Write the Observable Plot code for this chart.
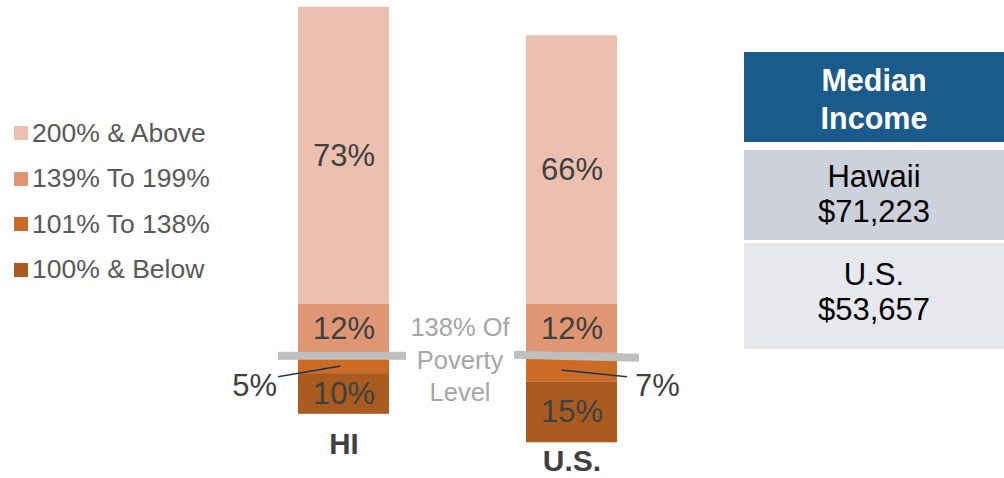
<!DOCTYPE html>
<html><head><meta charset="utf-8">
<script src="https://cdn.jsdelivr.net/npm/d3@7"></script>
<script src="https://cdn.jsdelivr.net/npm/@observablehq/plot@0.6"></script>
<style>
body{margin:0;background:#fff;font-family:"Liberation Sans",Arial,sans-serif;}
#wrap{position:relative;width:1004px;height:478px;overflow:hidden;}
#chart{position:absolute;left:0;top:0;}
.lg{position:absolute;left:14px;display:flex;align-items:center;white-space:nowrap;font-size:26.5px;color:#595959;height:30px;}
.sw{width:14px;height:14px;margin-right:4px;flex:none;}
.box{position:absolute;left:744px;width:260px;text-align:center;box-sizing:border-box;}
</style></head>
<body>
<div id="wrap"><div id="chart"></div></div>
<script>
// ---- data ----
const bars = ["HI", "U.S."];
const categories = ["100% & Below", "101% To 138%", "139% To 199%", "200% & Above"];
const hiShares = [10, 5, 12, 73];
const usShares = [15, 7, 12, 66];
const colors = ["#A95B20", "#CC6B25", "#E09573", "#EBC0B0"];
const belowThreshold = 2; // categories drawn below the 138% line
const thresholdLabel = "138% Of\nPoverty\nLevel";
const incomeTitle = "Median\nIncome";
const incomePlaces = ["Hawaii", "U.S."];
const incomeValues = ["$71,223", "$53,657"];

// ---- build rows ----
const rows = [];
[hiShares, usShares].forEach((vals, b) => {
  let y = -d3.sum(vals.slice(0, belowThreshold));
  vals.forEach((v, i) => {
    rows.push({bar: bars[b], category: categories[i], value: v, y1: y, y2: y + v, mid: y + v / 2});
    y += v;
  });
});
const bottoms = bars.map(b => ({bar: b, y: d3.min(rows.filter(r => r.bar === b), r => r.y1)}));
const inside = rows.filter(r => r.value >= 10);
const small = rows.filter(r => r.value < 10);

const W = 1004, H = 478;
const chart = Plot.plot({
  width: W, height: H,
  marginLeft: 297.7, marginRight: W - 617.6, marginTop: 6.8, marginBottom: 35.7,
  x: {domain: bars, paddingInner: 0.6, paddingOuter: 0, axis: null},
  y: {domain: [-22, 85], axis: null},
  color: {domain: categories, range: colors},
  style: {fontFamily: "'Liberation Sans', Arial, sans-serif", background: "transparent", overflow: "visible"},
  marks: [
    Plot.barY(rows, {x: "bar", y1: "y1", y2: "y2", fill: "category"}),
    Plot.text(inside, {x: "bar", y: "mid", text: d => d.value + "%", fill: "#404040", fontSize: 31}),
    // 138% poverty threshold line across each bar
    Plot.dot(bars, {x: d => d, y: 0, render(index, scales) {
      const {x, y} = scales;
      const bw = x.bandwidth();
      const y0 = y(0);
      const g = d3.create("svg:g");
      for (const i of index) {
        const x0 = x(bars[i]);
        const first = i === 0;
        g.append("line")
          .attr("x1", first ? x0 - 20 : x0 - 12).attr("y1", first ? y0 + 3 : y0 + 2)
          .attr("x2", first ? x0 + bw + 17 : x0 + bw + 22).attr("y2", first ? y0 + 3 : y0 + 5)
          .attr("stroke", "#BFBFBF").attr("stroke-width", 8);
      }
      return g.node();
    }}),
    // leader lines for small segments
    Plot.dot(small, {x: "bar", y: "mid", render(index, scales) {
      const {x, y} = scales;
      const bw = x.bandwidth();
      const g = d3.create("svg:g");
      for (const i of index) {
        const d = small[i];
        const left = bars.indexOf(d.bar) === 0;
        const x0 = x(d.bar), cx = x0 + bw / 2;
        g.append("line")
          .attr("x1", left ? cx - 3 : cx - 10).attr("y1", y(d.mid) + 3)
          .attr("x2", left ? x0 - 20 : x0 + bw + 10).attr("y2", y(0) + 24)
          .attr("stroke", "#17375E").attr("stroke-width", 1.5);
      }
      return g.node();
    }}),
    Plot.text(small.filter(d => d.bar === bars[0]), {x: "bar", y: 0, dy: 33, dx: -67, textAnchor: "end", text: d => d.value + "%", fill: "#404040", fontSize: 31}),
    Plot.text(small.filter(d => d.bar === bars[1]), {x: "bar", y: 0, dy: 33, dx: 63, textAnchor: "start", text: d => d.value + "%", fill: "#404040", fontSize: 31}),
    Plot.text([{bar: bars[0], label: thresholdLabel}], {x: "bar", y: 0, dx: 116, dy: 5, text: "label", lineAnchor: "middle", lineHeight: 1.28, fontSize: 25.5, fill: "#A6A6A6"}),
    Plot.text([bottoms[0]], {x: "bar", y: "y", dy: 30, text: "bar", fontWeight: "bold", fontSize: 29.5, fill: "#404040"}),
    Plot.text([bottoms[1]], {x: "bar", y: "y", dy: 19, text: "bar", fontWeight: "bold", fontSize: 30, fill: "#404040"})
  ]
});
const wrap = document.getElementById("wrap");
document.getElementById("chart").appendChild(chart);

// ---- legend (top category first) ----
categories.slice().reverse().forEach((c, i) => {
  const el = document.createElement("div");
  el.className = "lg";
  el.style.top = (133 + i * 45.6 - 15) + "px";
  const sw = document.createElement("span");
  sw.className = "sw";
  sw.style.background = colors[categories.indexOf(c)];
  const t = document.createElement("span");
  t.textContent = c;
  el.appendChild(sw); el.appendChild(t);
  wrap.appendChild(el);
});

// ---- median income table ----
function box(top, height, bg, lines, opts) {
  const el = document.createElement("div");
  el.className = "box";
  el.style.top = top + "px";
  el.style.height = height + "px";
  el.style.background = bg;
  el.style.paddingTop = opts.pad + "px";
  el.style.color = opts.color;
  el.style.fontSize = opts.size + "px";
  el.style.lineHeight = opts.lh + "px";
  el.style.fontWeight = opts.bold ? "bold" : "normal";
  lines.forEach(l => { const d = document.createElement("div"); d.textContent = l; el.appendChild(d); });
  wrap.appendChild(el);
}
box(52, 90, "#1B5B8C", incomeTitle.split("\n"), {pad: 9, color: "#fff", size: 30.5, lh: 38, bold: true});
box(150, 90, "#CDD1DC", [incomePlaces[0], incomeValues[0]], {pad: 9, color: "#000", size: 31, lh: 35});
box(243, 106, "#E6E8ED", [incomePlaces[1], incomeValues[1]], {pad: 14, color: "#000", size: 31, lh: 35});
</script>
</body></html>
